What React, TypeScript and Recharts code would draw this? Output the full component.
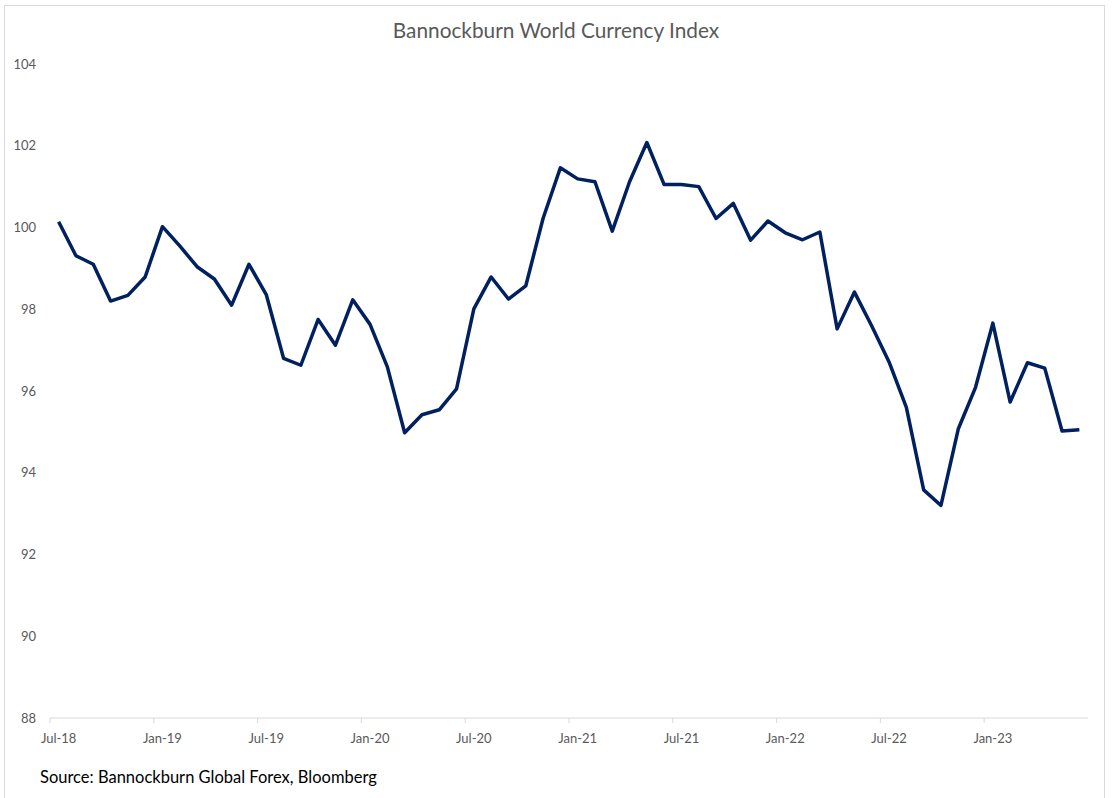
import { LineChart, Line, XAxis, YAxis } from "recharts";

// monthly index readings, Jul-18 .. Jun-23
const months = [
	"Jul-18", "Aug-18", "Sep-18", "Oct-18", "Nov-18", "Dec-18",
	"Jan-19", "Feb-19", "Mar-19", "Apr-19", "May-19", "Jun-19",
	"Jul-19", "Aug-19", "Sep-19", "Oct-19", "Nov-19", "Dec-19",
	"Jan-20", "Feb-20", "Mar-20", "Apr-20", "May-20", "Jun-20",
	"Jul-20", "Aug-20", "Sep-20", "Oct-20", "Nov-20", "Dec-20",
	"Jan-21", "Feb-21", "Mar-21", "Apr-21", "May-21", "Jun-21",
	"Jul-21", "Aug-21", "Sep-21", "Oct-21", "Nov-21", "Dec-21",
	"Jan-22", "Feb-22", "Mar-22", "Apr-22", "May-22", "Jun-22",
	"Jul-22", "Aug-22", "Sep-22", "Oct-22", "Nov-22", "Dec-22",
	"Jan-23", "Feb-23", "Mar-23", "Apr-23", "May-23", "Jun-23",
];

const indexValues = [
	100.14, 99.31, 99.1, 98.2, 98.34, 98.79,
	100.02, 99.55, 99.04, 98.74, 98.1, 99.1,
	98.36, 96.8, 96.63, 97.75, 97.12, 98.23,
	97.63, 96.59, 94.98, 95.42, 95.54, 96.05,
	98.01, 98.79, 98.25, 98.57, 100.22, 101.46,
	101.19, 101.12, 99.91, 101.12, 102.08, 101.05,
	101.05, 101.0, 100.22, 100.59, 99.69, 100.16,
	99.87, 99.7, 99.89, 97.52, 98.42, 97.59,
	96.71, 95.6, 93.58, 93.2, 95.07, 96.09,
	97.66, 95.73, 96.69, 96.56, 95.02, 95.05,
];

const yTicks = [88, 90, 92, 94, 96, 98, 100, 102, 104];
const xTicks = [0, 6, 12, 18, 24, 30, 36, 42, 48, 54];

const W = 1112;
const H = 798;
const X_AXIS_H = 30;
const MARGIN = { top: 64, right: 24, bottom: 50, left: 0 };
const Y_AXIS_W = 50;
const HALF_SLOT = (W - MARGIN.right - MARGIN.left - Y_AXIS_W) / months.length / 2;

const data = months.map((m, i) => ({ i, month: m, value: indexValues[i] }));

const FONT = "Lato, 'Open Sans', sans-serif";

function MonthTick(props: any) {
	const { x, y, payload } = props;
	const axisY = y - 16;
	return (
		<g>
			<line x1={x - HALF_SLOT} x2={x - HALF_SLOT} y1={axisY} y2={axisY + 5} stroke="#d9d9d9" />
			<text x={x} y={y} dy="0.71em" textAnchor="middle" fill="#595959" fontSize={13} fontFamily={FONT}>
				{months[payload.value]}
			</text>
		</g>
	);
}

export default function App() {
	return (
		<div style={{ position: "absolute", left: 0, top: 0, width: W, height: H, background: "#fff", overflow: "hidden" }}>
			<div style={{ position: "absolute", left: 4, top: 5, width: 1101, height: 820, border: "1px solid #d9d9d9", boxSizing: "border-box" }} />
			<div
				style={{
					position: "absolute", left: 0, top: 17, width: W, textAlign: "center",
					fontFamily: FONT, fontSize: 20.8, color: "#595959",
				}}
			>
				Bannockburn World Currency Index
			</div>
			<div style={{ position: "absolute", left: 0, top: 0 }}>
				<LineChart width={W} height={H} data={data} margin={MARGIN}>
					<XAxis
						dataKey="i"
						type="number"
						domain={[-0.5, months.length - 0.5]}
						ticks={xTicks}
						height={X_AXIS_H}
						tickLine={false}
						tickSize={5}
						tickMargin={11}
						axisLine={{ stroke: "#d9d9d9" }}
						tick={<MonthTick />}
						interval={0}
					/>
					<YAxis
						type="number"
						domain={[88, 104]}
						ticks={yTicks}
						width={Y_AXIS_W}
						axisLine={false}
						tickLine={false}
						tickSize={5}
						tickMargin={9}
						tick={{ fill: "#595959", fontSize: 13, fontFamily: FONT }}
						interval={0}
					/>
					<Line
						type="linear"
						dataKey="value"
						stroke="#002060"
						strokeWidth={3.5}
						strokeLinejoin="round"
						dot={false}
						activeDot={false}
						isAnimationActive={false}
					/>
				</LineChart>
			</div>
			<div
				style={{
					position: "absolute", left: 40, top: 767,
					fontFamily: FONT, fontSize: 16.5, color: "#000",
				}}
			>
				Source: Bannockburn Global Forex, Bloomberg
			</div>
		</div>
	);
}
